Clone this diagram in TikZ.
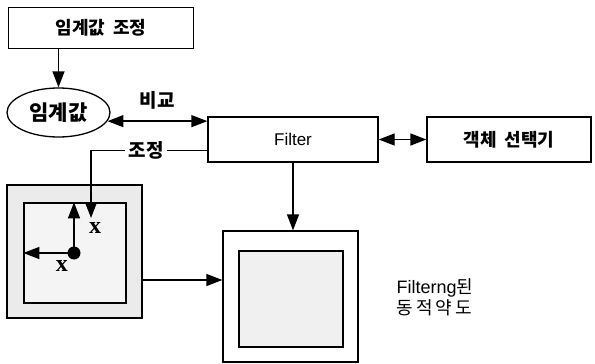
\documentclass[tikz,border=0pt]{standalone}
\usepackage{fontspec}
\setmainfont{Liberation Sans}
\newfontfamily\kr{Noto Sans CJK KR}
\newfontfamily\serifx{Liberation Serif}
\usetikzlibrary{arrows.meta,shapes.geometric,calc}
\begin{document}
\begin{tikzpicture}[x=1pt,y=-1pt,
  box/.style={draw,line width=1.3pt,rectangle,inner sep=0pt,font=\fontsize{17}{19}\selectfont},
  arr/.style={line width=1.3pt,-{Triangle[length=16pt,width=12pt]}},
  darr/.style={line width=1.3pt,{Triangle[length=16pt,width=12pt]}-{Triangle[length=16pt,width=12pt]}},
  lbl/.style={font=\fontsize{19}{21}\selectfont\kr\bfseries,inner sep=1pt},
  xlbl/.style={font=\fontsize{24}{25}\selectfont\serifx\bfseries,inner sep=0pt}]
\useasboundingbox (0,0) rectangle (595,364);
% nodes
\node[box,minimum width=185pt,minimum height=41pt,font=\fontsize{18}{20}\selectfont\kr\bfseries] (top) at (101,28) {임계값\ \ 조정};
\node[draw,ellipse,line width=1.3pt,minimum width=103pt,minimum height=49pt,inner sep=0pt,font=\fontsize{21}{23}\selectfont\kr\bfseries] (ell) at (58.5,112.5) {임계값};
\node[box,minimum width=170pt,minimum height=45pt] (filt) at (293,139.5) {Filter};
\node[box,minimum width=164pt,minimum height=45pt,font=\fontsize{18}{20}\selectfont\kr\bfseries] (sel) at (509,139.5) {객체\ \ 선택기};
\node[box,fill=gray!16,minimum width=135pt,minimum height=133pt] (lout) at (74.5,251.5) {};
\node[box,fill=gray!9,minimum width=102pt,minimum height=100pt] (lin) at (75,253) {};
\node[box,minimum width=135pt,minimum height=131pt] (rout) at (290.5,296.5) {};
\node[box,fill=gray!12,minimum width=104pt,minimum height=96pt] (rin) at (291,299) {};
\node[circle,fill=black,minimum size=13pt,inner sep=0pt] (dot) at (74,253) {};
\node[xlbl] (x1) at (95,228) {x};
\node[xlbl] (x2) at (62,266) {x};
\node[lbl] (bigyo) at (157,100) {비교};
\node[align=left,font=\fontsize{18}{21}\selectfont,inner sep=0pt] (cap) at (435,297) {Filterng{\kr 된}\\{\kr 동\,적\,약\,도}};
% connectors
\draw[arr] (ell.north |- top.south) -- (ell.north);
\draw[darr] (ell.-10) -- (ell.-10 -| filt.north west);
\draw[darr] (filt.east) -- (sel.west);
\coordinate (c1) at ($(filt.south west)+(0,-12)$);
\coordinate (c2) at (91,218);
\draw[arr] (c1) -- (c1 -| c2) -- (c2);
\node[lbl,fill=white,inner xsep=4pt] (jojeong) at (146,150) {조정};
\draw[arr] (dot.center) -- (dot.center |- lin.north);
\draw[arr] (dot.center) -- (dot.center -| lin.west);
\coordinate (c3) at ($(lout.east)+(0,28.5)$);
\draw[arr] (c3) -- (c3 -| rout.west);
\draw[arr] (filt.south) -- (filt.south |- rout.north);
\end{tikzpicture}
\end{document}
